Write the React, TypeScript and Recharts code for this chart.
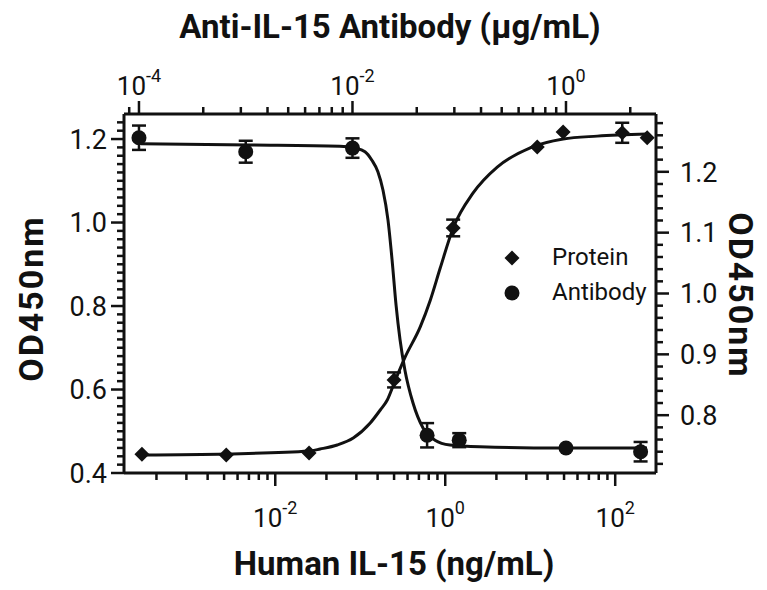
import { ComposedChart, Line, Scatter, XAxis, YAxis, ErrorBar, Legend, Label } from "recharts";

const FONT = "Roboto, 'Noto Sans', sans-serif";
const INK = "#111";

// Human IL-15 (ng/mL) -> OD450, left axis
const proteinConc = [0.00027, 0.00265, 0.025, 0.25, 1.24, 12.1, 24.4, 121, 238];
const proteinOD = [0.445, 0.443, 0.448, 0.623, 0.987, 1.181, 1.217, 1.215, 1.203];
const proteinErr = [0, 0, 0, 0.018, 0.02, 0, 0, 0.024, 0];

// Anti-IL-15 antibody (µg/mL) -> OD450, right axis
const antibodyConc = [0.0001, 0.001, 0.01, 0.05, 0.1, 1, 5];
const antibodyOD = [1.256, 1.233, 1.239, 0.767, 0.759, 0.746, 0.74];
const antibodyErr = [0.02, 0.018, 0.016, 0.02, 0.0115, 0, 0.016];

// fitted curves
const proteinFitConc = [0.000272, 0.00265, 0.0251, 0.0338, 0.0536, 0.0827, 0.131, 0.172, 0.208, 0.251, 0.338, 0.508, 0.667, 0.873, 1.24, 2.13, 4.09, 10, 24.4, 61.4, 238];
const proteinFitOD = [0.443, 0.4455, 0.4527, 0.4575, 0.4671, 0.4838, 0.5198, 0.5509, 0.5749, 0.6156, 0.678, 0.75, 0.814, 0.891, 0.987, 1.071, 1.133, 1.179, 1.2, 1.207, 1.212];

const antibodyFitConc = [0.0001045, 0.0011, 0.0076, 0.01054, 0.0131, 0.0152, 0.0173, 0.0193, 0.0215, 0.0235, 0.0256, 0.0279, 0.031, 0.0369, 0.0458, 0.0593, 0.0819, 0.156, 0.879, 5.74];
const antibodyFitOD = [1.246, 1.244, 1.242, 1.239, 1.233, 1.219, 1.2, 1.17, 1.121, 1.055, 0.981, 0.924, 0.874, 0.82, 0.779, 0.759, 0.751, 0.748, 0.746, 0.746];

const legendNames = ["Protein", "Antibody"];

// axes
const bottomDomain = [1.66e-4, 302];
const topDomain = [7.24e-5, 6.97];
const bottomLabels = [0.01, 1, 100];
const topLabels = [0.0001, 0.01, 1];
const logCycles = [1e-6, 1e-4, 1e-2, 1, 100];
const minorSteps = [4, 9, 16, 25, 36, 49, 64, 81];

const leftDomain = [0.4, 1.26];
const rightDomain = [0.705, 1.295];
const leftLabels = [0.4, 0.6, 0.8, 1.0, 1.2];
const rightLabels = [0.8, 0.9, 1.0, 1.1, 1.2];

const logTicks = (domain: number[]) =>
  logCycles
    .flatMap((c) => [c, ...minorSteps.map((k) => c * k)])
    .filter((v) => v >= domain[0] && v <= domain[1]);

const linTicks = (from: number, to: number) => {
  const out: number[] = [];
  for (let v = from; v <= to + 1e-9; v += 0.02) out.push(Math.round(v * 100) / 100);
  return out;
};

const isIn = (list: number[], v: number) => list.some((l) => Math.abs(l - v) < 1e-9);

const proteinPoints = proteinConc.map((x, i) => ({ x, y: proteinOD[i], err: proteinErr[i] }));
const antibodyPoints = antibodyConc.map((x, i) => ({ x, y: antibodyOD[i], err: antibodyErr[i] }));
const proteinFit = proteinFitConc.map((x, i) => ({ x, y: proteinFitOD[i] }));
const antibodyFit = antibodyFitConc.map((x, i) => ({ x, y: antibodyFitOD[i] }));

const MAJOR = 13;
const MINOR = 7;

function Pow({ x, y, value }: { x: number; y: number; value: number }) {
  const exp = Math.round(Math.log10(value));
  return (
    <text x={x} y={y} textAnchor="middle" fontSize={26} fill={INK} fontFamily={FONT}>
      <tspan>10</tspan>
      <tspan dy={-13} fontSize={18}>{exp}</tspan>
    </text>
  );
}

function BottomTick({ x, y, payload }: any) {
  const major = bottomLabels.includes(payload.value);
  return (
    <g>
      <line x1={x} x2={x} y1={y} y2={y + (major ? MAJOR : MINOR)} stroke={INK} strokeWidth={2.5} />
      {major && <Pow x={x} y={y + 54} value={payload.value} />}
    </g>
  );
}

function TopTick({ x, y, payload }: any) {
  const major = topLabels.includes(payload.value);
  return (
    <g>
      <line x1={x} x2={x} y1={y} y2={y - (major ? MAJOR : MINOR)} stroke={INK} strokeWidth={2.5} />
      {major && <Pow x={x} y={y - 19} value={payload.value} />}
    </g>
  );
}

function LeftTick({ x, y, payload }: any) {
  const major = isIn(leftLabels, payload.value);
  return (
    <g>
      <line x1={x} x2={x - (major ? MAJOR : MINOR)} y1={y} y2={y} stroke={INK} strokeWidth={2.5} />
      {major && (
        <text x={x - 17} y={y} dy="0.36em" textAnchor="end" fontSize={27} fill={INK} fontFamily={FONT}>
          {payload.value.toFixed(1)}
        </text>
      )}
    </g>
  );
}

function RightTick({ x, y, payload }: any) {
  const major = isIn(rightLabels, payload.value);
  return (
    <g>
      <line x1={x} x2={x + (major ? MAJOR : MINOR)} y1={y} y2={y} stroke={INK} strokeWidth={2.5} />
      {major && (
        <text x={x + 24} y={y} dy="0.36em" textAnchor="start" fontSize={27} fill={INK} fontFamily={FONT}>
          {payload.value.toFixed(1)}
        </text>
      )}
    </g>
  );
}

const Diamond = ({ cx, cy }: any) => (
  <polygon points={`${cx},${cy - 7.5} ${cx + 7.5},${cy} ${cx},${cy + 7.5} ${cx - 7.5},${cy}`} fill={INK} />
);
const Dot = ({ cx, cy }: any) => <circle cx={cx} cy={cy} r={7.5} fill={INK} />;

function LegendBox({ payload }: any) {
  const items = legendNames.filter((n) => (payload || []).some((p: any) => p.value === n));
  return (
    <div style={{ fontFamily: FONT, fontSize: 24, color: INK }}>
      {items.map((name) => (
        <div key={name} style={{ display: "flex", alignItems: "center", height: 35 }}>
          <svg width={24} height={24}>
            {name === "Protein" ? <Diamond cx={12} cy={12} /> : <Dot cx={12} cy={12} />}
          </svg>
          <span style={{ marginLeft: 28, lineHeight: "35px" }}>{name}</span>
        </div>
      ))}
    </div>
  );
}

const titleStyle = { fontFamily: FONT, fontSize: 33, fontWeight: 700, fill: INK };
const yTitleStyle = { fontFamily: FONT, fontSize: 34, fontWeight: 700, fill: INK, letterSpacing: 2 };

export default function App() {
  return (
    <div style={{ position: "absolute", left: 0, top: 0, background: "#fff" }}>
      <ComposedChart width={767} height={590} margin={{ top: 54, right: 51, bottom: 57, left: 64 }}>
        <XAxis
          xAxisId="bottom"
          dataKey="x"
          type="number"
          scale="log"
          orientation="bottom"
          domain={bottomDomain}
          allowDataOverflow
          ticks={logTicks(bottomDomain)}
          interval={0}
          tickSize={0}
          tickMargin={0}
          tick={BottomTick}
          height={60}
          axisLine={{ stroke: INK, strokeWidth: 3 }}
        >
          <Label
            content={({ viewBox }: any) => (
              <text x={viewBox.x + viewBox.width / 2 + 4} y={viewBox.y + 102} textAnchor="middle" style={titleStyle}>
                Human IL-15 (ng/mL)
              </text>
            )}
          />
        </XAxis>
        <XAxis
          xAxisId="top"
          dataKey="x"
          type="number"
          scale="log"
          orientation="top"
          domain={topDomain}
          allowDataOverflow
          ticks={logTicks(topDomain)}
          interval={0}
          tickSize={0}
          tickMargin={0}
          tick={TopTick}
          height={60}
          axisLine={{ stroke: INK, strokeWidth: 3 }}
        >
          <Label
            content={({ viewBox }: any) => (
              <text x={viewBox.x + viewBox.width / 2} y={38} textAnchor="middle" style={titleStyle}>
                Anti-IL-15 Antibody (μg/mL)
              </text>
            )}
          />
        </XAxis>
        <YAxis
          yAxisId="left"
          dataKey="y"
          type="number"
          orientation="left"
          domain={leftDomain}
          allowDataOverflow
          ticks={linTicks(0.4, 1.24)}
          interval={0}
          tickSize={0}
          tickMargin={0}
          tick={LeftTick}
          width={60}
          axisLine={{ stroke: INK, strokeWidth: 3 }}
        >
          <Label
            content={({ viewBox }: any) => (
              <text
                x={31}
                y={viewBox.y + viewBox.height / 2 + 5}
                transform={`rotate(-90 31 ${viewBox.y + viewBox.height / 2 + 5})`}
                textAnchor="middle"
                dy="0.36em"
                style={yTitleStyle}
              >
                OD450nm
              </text>
            )}
          />
        </YAxis>
        <YAxis
          yAxisId="right"
          dataKey="y"
          type="number"
          orientation="right"
          domain={rightDomain}
          allowDataOverflow
          ticks={linTicks(0.72, 1.28)}
          interval={0}
          tickSize={0}
          tickMargin={0}
          tick={RightTick}
          width={60}
          axisLine={{ stroke: INK, strokeWidth: 3 }}
        >
          <Label
            content={({ viewBox }: any) => (
              <text
                x={741}
                y={viewBox.y + viewBox.height / 2 + 2}
                transform={`rotate(90 741 ${viewBox.y + viewBox.height / 2 + 2})`}
                textAnchor="middle"
                dy="0.36em"
                style={yTitleStyle}
              >
                OD450nm
              </text>
            )}
          />
        </YAxis>

        <Line
          data={proteinFit}
          xAxisId="bottom"
          yAxisId="left"
          dataKey="y"
          type="monotone"
          stroke={INK}
          strokeWidth={3}
          dot={false}
          legendType="none"
          isAnimationActive={false}
        />
        <Line
          data={antibodyFit}
          xAxisId="top"
          yAxisId="right"
          dataKey="y"
          type="monotone"
          stroke={INK}
          strokeWidth={3}
          dot={false}
          legendType="none"
          isAnimationActive={false}
        />
        <Scatter
          name="Protein"
          data={proteinPoints}
          xAxisId="bottom"
          yAxisId="left"
          dataKey="y"
          fill={INK}
          shape={Diamond}
          isAnimationActive={false}
        >
          <ErrorBar dataKey="err" direction="y" width={7} stroke={INK} strokeWidth={2.5} isAnimationActive={false} />
        </Scatter>
        <Scatter
          name="Antibody"
          data={antibodyPoints}
          xAxisId="top"
          yAxisId="right"
          dataKey="y"
          fill={INK}
          shape={Dot}
          isAnimationActive={false}
        >
          <ErrorBar dataKey="err" direction="y" width={7} stroke={INK} strokeWidth={2.5} isAnimationActive={false} />
        </Scatter>

        <Legend
          layout="vertical"
          align="center"
          verticalAlign="middle"
          content={LegendBox}
          wrapperStyle={{ left: 500, top: 240, width: "auto" }}
        />
      </ComposedChart>
    </div>
  );
}
